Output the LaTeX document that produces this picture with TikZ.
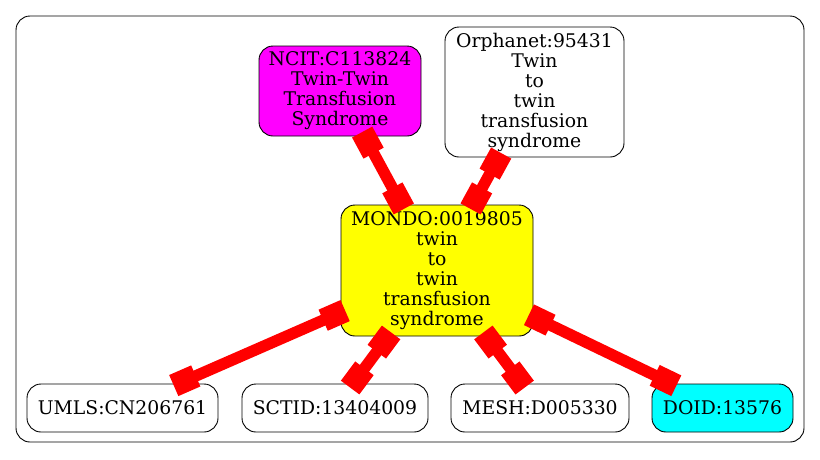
\documentclass[tikz,border=0pt]{standalone}
\usepackage{fontspec}
\setmainfont{DejaVu Serif}
\usetikzlibrary{arrows.meta}
\definecolor{xrefred}{HTML}{FF0000}
\definecolor{ncitfill}{HTML}{FF00FF}
\definecolor{mondofill}{HTML}{FFFF00}
\definecolor{doidfill}{HTML}{00FFFF}
\tikzset{
  termnode/.style={draw, rounded corners=14pt, line width=0.9pt, align=center,
                   inner sep=0pt, font=\fontsize{18.8}{20}\selectfont},
  hubnode/.style={termnode, fill=mondofill},
  ncitnode/.style={termnode, fill=ncitfill},
  doidnode/.style={termnode, fill=doidfill},
  xref/.style={line width=11.5pt, xrefred, shorten <=-5pt, shorten >=-5pt,
               {Square[length=24pt,width=23pt]}-{Square[length=24pt,width=23pt]}},
}

\begin{document}
\begin{tikzpicture}[x=1pt, y=-1pt]
    \useasboundingbox (0,0) rectangle (820,459);
    \draw[rounded corners=14pt, line width=0.9pt] (16,16) rectangle (804,442);
    % terms
    \node[ncitnode, minimum width=162pt, minimum height=90pt] (ncit) at (340,91)
      {NCIT:C113824\\Twin-Twin\\Transfusion\\Syndrome};
    \node[termnode, minimum width=179pt, minimum height=130pt] (orpha) at (534.5,92)
      {Orphanet:95431\\Twin\\to\\twin\\transfusion\\syndrome};
    \node[hubnode, minimum width=192pt, minimum height=131pt] (mondo) at (437,270.5)
      {MONDO:0019805\\twin\\to\\twin\\transfusion\\syndrome};
    \node[termnode, minimum width=191pt, minimum height=48pt] (umls) at (122.5,408) {UMLS:CN206761};
    \node[termnode, minimum width=186pt, minimum height=48pt] (sctid) at (335,408) {SCTID:13404009};
    \node[termnode, minimum width=178pt, minimum height=48pt] (mesh) at (540,408) {MESH:D005330};
    \node[doidnode, minimum width=141pt, minimum height=48pt] (doid) at (722.5,408) {DOID:13576};
    % cross references
    \foreach \t in {ncit, orpha, umls, sctid, mesh, doid}
      \draw[xref] (mondo) -- (\t);
\end{tikzpicture}
\end{document}
